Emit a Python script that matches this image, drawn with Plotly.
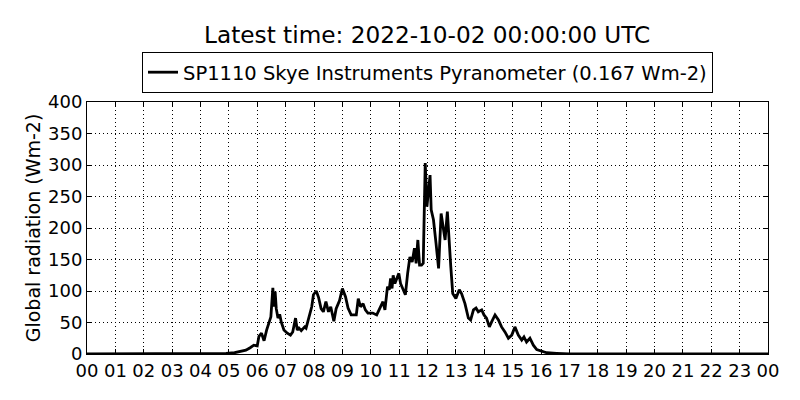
import plotly.graph_objects as go
import pandas as pd

# Data (decimal hours since 2022-10-01 00:00 UTC, global radiation Wm-2)
hours = [0.0, 1.0, 2.0, 3.0, 4.0, 4.5, 4.9, 5.2, 5.4, 5.6, 5.75, 5.88, 6.0, 6.06, 6.15, 6.24,
         6.33, 6.41, 6.48, 6.55, 6.59, 6.63, 6.67, 6.73, 6.79, 6.85, 6.94, 7.06, 7.17, 7.25,
         7.35, 7.41, 7.47, 7.55, 7.67, 7.72, 7.84, 7.92, 7.98, 8.08, 8.16, 8.25, 8.33, 8.42,
         8.51, 8.59, 8.70, 8.78, 8.90, 9.0, 9.11, 9.2, 9.31, 9.49, 9.56, 9.64, 9.73, 9.81,
         9.9, 10.07, 10.21, 10.36, 10.43, 10.5, 10.59, 10.65, 10.7, 10.75, 10.79, 10.85,
         10.91, 10.99, 11.05, 11.15, 11.22, 11.3, 11.38, 11.46, 11.54, 11.6, 11.66, 11.72,
         11.79, 11.85, 11.92, 11.98, 12.02, 12.09, 12.13, 12.21, 12.30, 12.39, 12.48, 12.56,
         12.62, 12.70, 12.76, 12.82, 12.89, 13.0, 13.12, 13.2, 13.32, 13.44, 13.52, 13.62,
         13.71, 13.79, 13.91, 13.99, 14.08, 14.18, 14.26, 14.38, 14.5, 14.61, 14.73, 14.85,
         14.97, 15.08, 15.2, 15.32, 15.4, 15.49, 15.61, 15.73, 15.85, 16.02, 16.2, 16.55,
         17.0, 20.0, 24.0]
radiation = [0, 0, 0, 0, 0, 0.5, 1, 2, 3.5, 6, 10, 14, 13, 28, 33, 21,
             38, 51, 59, 105, 75, 99, 72, 57, 63, 50, 38, 33, 30, 35,
             57, 38, 41, 37, 43, 41, 59, 75, 94, 100, 90, 72, 67, 83,
             67, 75, 52, 72, 85, 104, 91, 73, 62, 62, 88, 75, 80, 70,
             65, 65, 62, 78, 83, 70, 107, 102, 120, 104, 125, 112,
             120, 128, 112, 102, 94, 128, 154, 146, 168, 144, 181, 141,
             141, 144, 303, 234, 255, 284, 229, 213, 176, 136, 223, 197,
             181, 226, 176, 139, 96, 88, 102, 96, 80, 57, 54, 70,
             73, 67, 70, 62, 57, 43, 51, 62, 54, 43, 35, 25,
             30, 43, 30, 22, 27, 19, 25, 14, 7, 4, 2, 1,
             0, 0, 0]

series_name = "SP1110 Skye Instruments Pyranometer (0.167 Wm-2)"
title_text = "Latest time: 2022-10-02 00:00:00 UTC"
y_ticks = [0, 50, 100, 150, 200, 250, 300, 350, 400]

start = pd.Timestamp("2022-10-01 00:00:00")
times = [start + pd.Timedelta(hours=h) for h in hours]
x_ticks = [start + pd.Timedelta(hours=h) for h in range(25)]
x_ticktext = ["%02d" % (h % 24) for h in range(25)]

FONT = "DejaVu Sans"

fig = go.Figure()
fig.add_trace(go.Scatter(x=times, y=radiation, mode="lines", name=series_name,
                         line=dict(color="black", width=2.8)))

axis_common = dict(showline=True, linecolor="black", linewidth=1, mirror="ticks",
                   ticks="inside", ticklen=5, tickcolor="black", tickwidth=1,
                   showgrid=True, gridcolor="black", gridwidth=1, griddash="1px,3px",
                   zeroline=False, tickfont=dict(family=FONT, size=18, color="black"))

fig.update_xaxes(range=[x_ticks[0], x_ticks[-1]], tickvals=x_ticks, ticktext=x_ticktext,
                 **axis_common)
fig.update_yaxes(range=[0, 400], tickvals=y_ticks, ticktext=[str(v) for v in y_ticks],
                 title=dict(text="Global radiation (Wm-2)", font=dict(family=FONT, size=19, color="black"),
                            standoff=2),
                 **axis_common)

fig.update_layout(
    width=800, height=400,
    margin=dict(l=79, r=40, t=94, b=54),
    paper_bgcolor="white", plot_bgcolor="white",
    font=dict(family=FONT, color="black"),
    title=dict(text=title_text, x=0.524, xanchor="center", y=0.9325, yanchor="middle",
               font=dict(family=FONT, size=23.2, color="black")),
    showlegend=True,
    legend=dict(x=0.5, xanchor="center", y=1.117, yanchor="middle", orientation="h",
                bordercolor="black", borderwidth=1, bgcolor="white",
                font=dict(family=FONT, size=19.5, color="black")),
)

fig.write_html("out.html")
